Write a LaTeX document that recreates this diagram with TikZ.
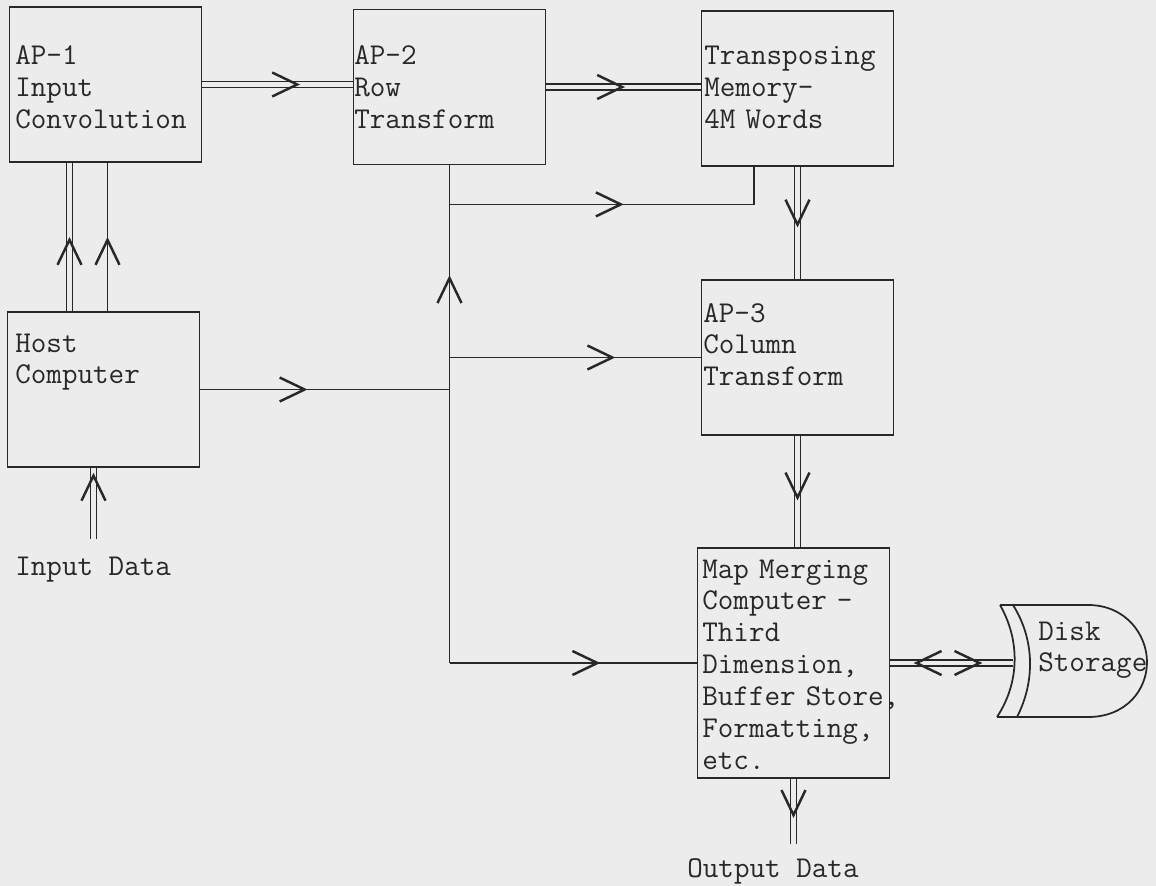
\documentclass[tikz,border=0pt]{standalone}
\usepackage{fontspec}
\usetikzlibrary{arrows.meta,calc,decorations.markings}
\definecolor{paper}{RGB}{236,236,236}
\definecolor{ink}{RGB}{40,40,40}
\newcommand{\fwdtip}{\pgfsetlinewidth{1.4pt}\pgfsetinnerlinewidth{0pt}\arrow[ink]{>}}
\newcommand{\backtip}{\pgfsetlinewidth{1.4pt}\pgfsetinnerlinewidth{0pt}\arrowreversed[ink]{>}}
\tikzset{
  blk/.style={draw=ink, line width=1pt, minimum width=38.4mm, minimum height=31mm, inner sep=0pt},
  lbl/.style={anchor=base west, inner sep=0pt, align=left, text width=45mm},
  wire/.style={draw=ink, line width=1pt},
  dbl/.style={draw=ink, line width=0.8pt, double=paper, double distance=0.92mm},
  midarr/.style={postaction={decorate,decoration={markings,mark=at position #1 with {\fwdtip}}}},
  backarr/.style={postaction={decorate,decoration={markings,mark=at position #1 with {\backtip}}}}
}
\begin{document}
\begin{tikzpicture}[x=0.2mm, y=-0.2mm, >={Straight Barb[length=5mm,width=4.8mm]},
  font=\ttfamily\fontsize{17.2}{18.2}\selectfont, text=ink]

\useasboundingbox (0,0) rectangle (1156,886);
\fill[paper] (0,0) rectangle (1156,886);

% Top row: processors and memory
\node[blk] (ap1) at (105.5,84.5) {};
\node[lbl] (ap1t) at (15,65) {AP-1\\Input\\Convolution};
\node[blk] (ap2) at (449.5,87) {};
\node[lbl] (ap2t) at (354,65) {AP-2\\Row\\Transform};
\node[blk] (tmem) at (797.5,88.5) {};
\node[lbl] (tmemt) at (704,65) {Transposing\\Memory-\\4M Words};

% Host side
\node[blk] (host) at (103.5,389.5) {};
\node[lbl] (hostt) at (15,352) {Host\\Computer};
\node[anchor=base west, inner sep=0pt] (indata) at (15,575) {Input Data};

% Right column
\node[blk] (ap3) at (797.5,357.5) {};
\node[lbl] (ap3t) at (703,322) {AP-3\\Column\\Transform};
\node[blk, minimum height=46mm] (map) at (793.5,663) {};
\node[lbl] (mapt) at (702,578) {Map Merging\\Computer -\\Third\\Dimension,\\Buffer Store,\\Formatting,\\etc.};
\node[anchor=base west, inner sep=0pt] (outdata) at (687,877) {Output Data};

% Disk storage
\draw[wire] (1000,605) .. controls (1020,640) and (1020,682) .. (997,717);
\draw[wire] (1013,605) .. controls (1035,640) and (1035,682) .. (1017,717);
\draw[wire] (1000,605) -- (1088,605) .. controls (1126,605) and (1147,635) .. (1147,662)
  .. controls (1147,690) and (1126,717) .. (1088,717) -- (997,717);
\node[lbl] (disk) at (1038,640) {Disk\\Storage};

% Junctions
\coordinate (jtm) at ($(ap2.south)+(0,39)$);
\coordinate (tmin) at ($(tmem.south west)+(53,0)$);
\coordinate (jhost) at (ap2.south |- host.east);
\coordinate (jmap) at (ap2.south |- map.west);
\coordinate (hd) at ($(host.north)+(-34,0)$);
\coordinate (hs) at ($(host.north)+(4,0)$);
\coordinate (inend) at ($(host.south)+(-10,71)$);
\coordinate (outend) at ($(map.south)+(0,65)$);
\coordinate (diskin) at (1013,663);

% Data paths
\draw[dbl, midarr=0.65] (ap1.east) -- (ap1.east -| ap2.west);
\draw[dbl, midarr=0.51] (ap2.east) -- (ap2.east -| tmem.west);
\draw[dbl, midarr=0.5] (hd) -- (hd |- ap1.south);
\draw[wire, midarr=0.5] (hs) -- (hs |- ap1.south);
\draw[dbl, midarr=0.93] (inend) -- (inend |- host.south);
\draw[wire, midarr=0.43] (host.east) -- (jhost);
\draw[wire, midarr=0.51] (jhost) -- (ap2.south);
\draw[wire, midarr=0.51] (jtm) -| (tmin);
\draw[wire, midarr=0.66] (ap2.south |- ap3.west) -- (ap3.west);
\draw[wire] (jhost) -- (jmap);
\draw[wire, midarr=0.61] (jmap) -- (map.west);
\draw[dbl, midarr=0.54] (tmem.south) -- (ap3.north);
\draw[dbl, midarr=0.58] (ap3.south) -- (ap3.south |- map.north);
\draw[dbl, midarr=0.6] (map.south) -- (outend);
\draw[dbl, backarr=0.19, midarr=0.75] (map.east) -- (diskin);

\end{tikzpicture}
\end{document}
